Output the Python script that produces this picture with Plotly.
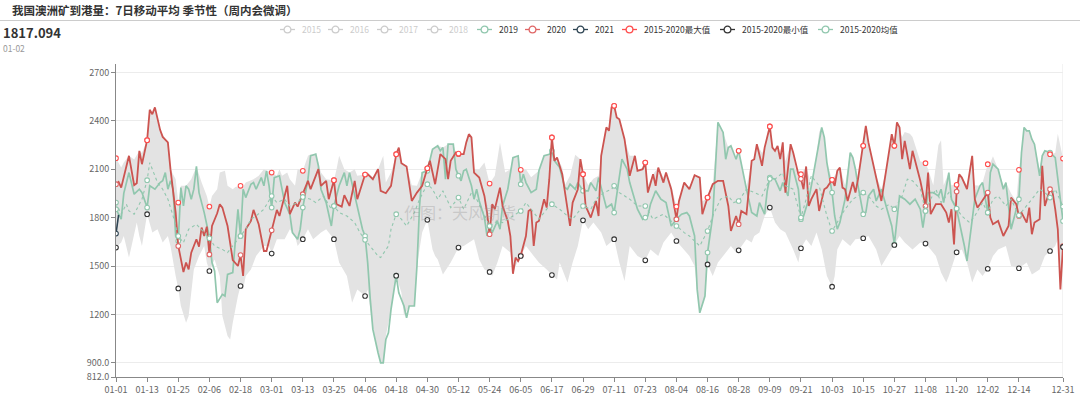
import plotly.graph_objects as go
import numpy as np

# ---------------- data (day index 0..365 of a leap-year calendar, value) ----------------
tick_days = [0, 12, 24, 36, 48, 60, 72, 84, 96, 108, 120, 132, 144, 156, 168, 180, 192, 204,
             216, 228, 240, 252, 264, 276, 288, 300, 312, 324, 336, 348, 365]
tick_labels = ["01-01", "01-13", "01-25", "02-06", "02-18", "03-01", "03-13", "03-25", "04-06",
               "04-18", "04-30", "05-12", "05-24", "06-05", "06-17", "06-29", "07-11", "07-23",
               "08-04", "08-16", "08-28", "09-09", "09-21", "10-03", "10-15", "10-27", "11-08",
               "11-20", "12-02", "12-14", "12-31"]
y_tick_vals = [812, 900, 1200, 1500, 1800, 2100, 2400, 2700]
y_tick_text = ["812.0", "900.0", "1200", "1500", "1800", "2100", "2400", "2700"]

s2020 = [(0,2007),(1,2021),(2,1986),(5,2183),(7,2001),(8,2013),(9,2214),(10,2131),(12,2280),(13,2468),
 (14,2441),(15,2483),(17,2344),(18,2300),(20,2266),(21,2100),(23,1831),(24,1624),(26,1463),(27,1521),
 (28,1479),(29,1583),(31,1666),(32,1620),(33,1738),(34,1686),(35,1744),(36,1572),(37,1748),(39,1827),
 (40,1883),(41,1862),(43,1748),(45,1537),(47,1500),(48,1568),(49,1438),(50,1728),(52,1779),(53,1848),
 (55,1759),(57,1593),(58,1593),(60,1721),(62,1848),(63,1810),(65,1934),(66,1997),(67,1821),(69,1893),
 (70,1868),(72,1945),(74,2028),(75,1976),(78,2100),(79,1997),(81,2028),(82,1914),(84,2032),(85,1883),
 (87,1868),(88,1939),(90,1872),(92,2028),(93,1914),(96,2067),(97,2069),(99,2038),(101,2100),(102,1966),
 (104,1951),(106,1997),(108,2193),(109,2234),(110,2137),(112,2117),(114,1903),(116,1955),(118,1997),
 (120,2106),(121,2152),(123,2007),(125,2193),(127,2162),(128,2038),(129,2152),(131,2203),(132,2193),
 (134,2193),(135,2266),(136,2317),(137,2297),(138,2079),(140,2048),(142,1934),(143,1831),(144,1697),
 (145,1883),(146,1852),(148,1986),(149,1872),(151,1779),(152,1686),(153,1452),(154,1552),(155,1531),
 (156,1565),(158,1686),(159,1841),(160,1852),(161,1624),(162,1769),(163,1779),(165,1914),(166,1862),
 (167,2038),(168,2297),(169,2152),(170,2172),(172,2069),(173,1966),(175,1748),(176,1893),(178,1976),
 (179,2162),(180,2069),(181,1872),(183,1800),(185,1903),(186,1810),(187,2183),(189,2359),(190,2338),
 (191,2483),(192,2493),(193,2421),(194,2410),(196,2286),(198,2059),(199,2131),(200,2183),(201,2090),
 (203,2100),(204,2141),(205,1955),(207,2069),(208,1997),(209,2110),(211,2017),(212,2079),(214,1976),
 (216,1790),(217,1903),(219,2017),(221,1976),(223,2063),(225,2048),(226,1821),(228,1924),(230,2007),
 (232,2028),(234,2028),(236,1872),(237,1717),(239,1810),(240,1759),(241,1841),(243,1821),(245,2152),
 (246,2162),(247,2255),(249,2121),(250,2234),(252,2365),(253,2234),(254,2214),(255,2245),(256,2162),
 (257,2266),(258,1955),(260,2255),(261,2203),(263,2069),(264,2040),(265,1976),(266,2117),(267,1872),
 (268,1914),(270,1976),(271,1841),(273,1976),(274,1986),(276,2034),(277,1997),(278,2090),(279,2110),
 (280,1986),(281,1976),(282,1903),(284,2021),(285,1955),(286,2038),(288,2245),(289,2369),(290,2266),
 (292,2121),(293,2059),(295,1903),(297,2110),(298,2203),(299,2317),(300,2245),(301,2390),(302,2359),
 (303,2162),(304,2276),(306,2100),(307,2214),(309,2100),(310,2028),(312,1872),(313,2079),(314,1821),
 (316,1883),(318,1883),(320,1831),(321,1769),(322,1852),(323,1634),(324,1961),(325,2069),(326,2048),
 (328,1976),(330,2183),(331,1914),(332,1862),(333,1883),(335,1934),(336,1955),(337,1800),(338,1759),
 (340,1779),(342,1686),(344,1748),(345,1924),(347,1883),(348,1810),(349,1831),(351,1769),(352,1862),
 (353,1697),(354,1769),(356,1790),(357,2121),(358,1872),(360,1976),(361,1955),(362,1852),(363,1727),
 (364,1355),(365,1624)]

s2019 = [(0,1852),(2,1790),(3,1950),(5,2079),(7,1945),(9,1976),(10,1955),(12,1862),(13,1997),(15,1976),
 (17,2017),(18,2028),(19,2079),(20,1976),(21,2028),(22,1976),(23,1686),(24,1655),(25,1986),(26,1872),
 (27,1997),(28,1976),(29,1914),(30,1976),(31,2117),(32,1955),(34,1831),(35,1748),(36,1680),(37,1521),
 (38,1469),(39,1272),(41,1324),(42,1314),(43,1448),(45,1459),(46,1666),(47,1852),(48,1686),(49,1976),
 (50,1924),(52,2007),(53,2017),(54,1976),(56,2048),(57,1997),(58,2090),(59,1997),(60,1862),(61,2048),
 (63,2059),(64,1976),(65,1893),(67,1821),(68,1707),(70,1666),(71,1728),(72,1862),(74,2038),(75,2183),
 (77,2193),(78,2121),(79,1976),(81,1893),(82,1810),(83,1748),(84,1872),(85,1934),(86,1997),(88,2079),
 (89,1997),(90,2079),(92,1934),(93,1872),(95,1728),(96,1686),(97,1521),(98,1293),(99,1107),(101,962),
 (102,900),(103,900),(104,1045),(105,1086),(106,1231),(108,1440),(109,1334),(111,1252),(112,1179),
 (113,1252),(115,1252),(116,1500),(117,1872),(118,2079),(120,2090),(122,2224),(124,2245),(125,2214),
 (126,2234),(127,2038),(128,2255),(130,2255),(131,2100),(132,2060),(133,2028),(134,2090),(135,2100),
 (137,1997),(138,1914),(139,1976),(140,1903),(142,1800),(143,1686),(144,1748),(145,1707),(147,1779),
 (148,1728),(149,1872),(151,1976),(153,2172),(155,2183),(156,2007),(157,2069),(158,2017),(160,1955),
 (162,1976),(163,2090),(165,2183),(167,2193),(168,2214),(169,2152),(171,2110),(173,1986),(174,1976),
 (175,2007),(177,1976),(178,2017),(180,1966),(182,1966),(183,2017),(185,1966),(186,2048),(188,1934),
 (189,1862),(191,1883),(192,1831),(195,2162),(197,2100),(198,2017),(201,1852),(203,1790),(204,1800),
 (205,1810),(206,1883),(208,1966),(210,1914),(212,1893),(214,1748),(216,1790),(218,1821),(220,1831),
 (221,1810),(223,1686),(224,1355),(225,1210),(227,1314),(228,1583),(230,1810),(232,2390),(234,2328),
 (235,2162),(236,2234),(237,2245),(239,2162),(240,2214),(243,1976),(245,1831),(246,1821),(247,1810),
 (248,1893),(250,1821),(251,1966),(252,2048),(254,2038),(256,1966),(257,2017),(259,1934),(260,2100),
 (261,2100),(263,1976),(264,1790),(265,1810),(267,1914),(268,1997),(270,2183),(272,2359),(273,2297),
 (274,2141),(276,1955),(277,1810),(278,1728),(279,1769),(281,1914),(283,2203),(284,2172),(285,2100),
 (286,1997),(288,1821),(289,1831),(290,1934),(292,1976),(293,1903),(295,1976),(297,1862),(299,1748),
 (300,1634),(301,1790),(302,1934),(304,1914),(306,1883),(308,1914),(310,1852),(311,1738),(312,1841),
 (313,1955),(315,1955),(317,1934),(318,1976),(319,1893),(321,2079),(322,1914),(324,1852),(325,1779),
 (326,1686),(327,1624),(328,1531),(330,1769),(331,1914),(333,1997),(334,2017),(336,1831),(337,2079),
 (338,2131),(340,2100),(342,1976),(343,2017),(344,1872),(345,1728),(347,1852),(348,1914),(349,2203),
 (350,2359),(351,2338),(352,2338),(353,2286),(354,2255),(356,2059),(357,2183),(358,2214),(360,2203),
 (362,2172),(363,2048),(364,1934),(365,1779)]

s2021 = [(0,1701),(1,1817.094)]

smax = [(0,2168),(2,2110),(3,2141),(5,2183),(7,2160),(9,2214),(10,2200),(12,2280),(13,2468),(14,2441),
 (15,2483),(17,2344),(19,2286),(20,2266),(21,2100),(22,2070),(23,2038),(24,1893),(25,1997),(27,1997),
 (29,2038),(31,2117),(33,2017),(35,1934),(36,1868),(37,1934),(39,1976),(40,2079),(42,2090),(43,1997),
 (45,1976),(46,1990),(48,1997),(49,1990),(50,2017),(53,2038),(55,2059),(57,2100),(58,2090),(60,2079),
 (62,2059),(63,2100),(64,2059),(66,2079),(67,2038),(69,1997),(70,2100),(72,2090),(74,2183),(75,2193),
 (77,2193),(78,2141),(79,2079),(81,2038),(84,2032),(85,2100),(86,2183),(88,2100),(90,2079),(92,2100),
 (93,2059),(96,2067),(97,2079),(99,2048),(101,2100),(103,2183),(104,2017),(106,2079),(108,2193),
 (109,2234),(110,2141),(112,2121),(114,2000),(116,1997),(118,2079),(120,2106),(121,2152),(122,2224),
 (124,2245),(126,2234),(128,2255),(130,2255),(131,2203),(132,2197),(134,2193),(135,2266),(136,2317),
 (137,2297),(138,2100),(140,2100),(142,2141),(144,2011),(146,2059),(148,2266),(150,2080),(152,2100),
 (153,2172),(155,2183),(156,2096),(158,2100),(160,2050),(162,2079),(163,2090),(165,2183),(167,2193),
 (168,2297),(169,2152),(170,2172),(172,2110),(173,2000),(175,2060),(177,2190),(179,2162),(180,2069),
 (182,2000),(184,2040),(186,2060),(187,2183),(189,2359),(190,2338),(191,2483),(192,2493),(193,2421),
 (194,2410),(196,2286),(198,2183),(200,2183),(201,2090),(203,2100),(204,2141),(205,2000),(207,2069),
 (209,2110),(211,2050),(212,2079),(214,2000),(216,1868),(217,1903),(219,2017),(221,1990),(223,2063),
 (225,2048),(226,1900),(228,1924),(230,2007),(232,2390),(234,2328),(236,2234),(237,2245),(239,2162),
 (240,2214),(243,1990),(245,2152),(246,2162),(247,2255),(249,2200),(250,2234),(252,2365),(253,2234),
 (254,2214),(255,2245),(256,2162),(257,2266),(258,2150),(260,2255),(261,2203),(262,2100),(264,2069),
 (266,2117),(268,2000),(270,2183),(271,2330),(272,2359),(273,2297),(274,2141),(276,2034),(278,2090),
 (279,2110),(281,2000),(283,2203),(284,2172),(285,2100),(286,2038),(288,2245),(289,2369),(290,2266),
 (292,2121),(293,2059),(295,1976),(297,2110),(298,2203),(299,2317),(300,2245),(301,2390),(302,2359),
 (303,2300),(304,2330),(306,2320),(307,2300),(309,2200),(310,2150),(312,2137),(313,2100),(315,2000),
 (317,2250),(318,2280),(319,2000),(321,2079),(322,2000),(324,2003),(325,2069),(326,2048),(328,2000),
 (330,2183),(331,2000),(333,1997),(334,2017),(336,2131),(337,2140),(338,2180),(340,2100),(342,2000),
 (343,2017),(345,1950),(347,1900),(348,2096),(349,2203),(350,2359),(351,2338),(352,2338),(353,2286),
 (354,2255),(356,2100),(357,2183),(358,2214),(360,2193),(362,2200),(363,2320),(364,2250),(365,2166)]

smin = [(0,1614),(2,1645),(3,1686),(5,1552),(6,1624),(8,1769),(9,1686),(10,1624),(12,1821),(14,1707),
 (16,1728),(18,1645),(20,1686),(21,1624),(23,1438),(24,1361),(25,1252),(27,1148),(28,1190),(29,1355),
 (30,1479),(32,1562),(34,1624),(35,1521),(36,1469),(38,1541),(40,1438),(41,1190),(43,1066),(44,1045),
 (45,1148),(47,1314),(48,1376),(49,1355),(50,1438),(52,1479),(54,1562),(57,1624),(59,1624),(60,1577),
 (62,1666),(65,1666),(67,1728),(69,1686),(70,1624),(72,1666),(74,1728),(76,1666),(79,1707),(81,1728),
 (84,1666),(86,1521),(89,1438),(91,1272),(93,1355),(96,1314),(97,1355),(99,1107),(101,962),(102,900),
 (103,900),(104,1066),(106,1231),(108,1440),(110,1334),(111,1190),(113,1252),(115,1252),(116,1500),
 (118,1707),(120,1786),(122,1603),(123,1562),(124,1541),(126,1448),(129,1521),(132,1614),(134,1624),
 (138,1666),(140,1541),(142,1479),(144,1463),(145,1438),(147,1521),(149,1624),(152,1583),(153,1452),
 (154,1500),(156,1562),(158,1624),(161,1562),(163,1521),(166,1479),(168,1444),(170,1417),(171,1521),
 (174,1397),(176,1521),(178,1624),(180,1783),(182,1728),(184,1769),(187,1707),(189,1624),(192,1666),
 (194,1521),(196,1407),(198,1624),(201,1562),(204,1535),(206,1603),(209,1562),(211,1645),(214,1707),
 (216,1655),(219,1603),(221,1562),(223,1500),(224,1355),(225,1210),(227,1314),(228,1510),(230,1438),
 (232,1521),(234,1562),(237,1624),(239,1583),(240,1597),(243,1666),(245,1645),(246,1686),(248,1707),
 (250,1810),(252,1862),(254,1769),(256,1728),(258,1707),(261,1603),(263,1521),(264,1610),(266,1666),
 (268,1624),(270,1707),(272,1603),(274,1438),(276,1372),(277,1438),(278,1603),(280,1666),(283,1624),
 (285,1666),(288,1672),(290,1686),(293,1603),(295,1500),(298,1583),(300,1630),(302,1686),(304,1645),
 (307,1603),(310,1645),(312,1639),(314,1603),(316,1562),(318,1459),(320,1397),(321,1438),(324,1585),
 (326,1603),(328,1521),(330,1397),(332,1479),(334,1438),(336,1483),(338,1562),(340,1603),(343,1624),
 (345,1500),(348,1486),(351,1521),(353,1448),(356,1479),(358,1562),(360,1593),(362,1624),(363,1666),
 (364,1355),(365,1618)]

smean = [(0,1893),(2,1821),(4,1883),(5,1841),(7,1821),(8,1852),(10,1914),(12,2032),(13,2141),(14,2100),
 (16,2017),(18,1976),(20,1914),(22,1810),(24,1686),(26,1645),(28,1728),(31,1759),(34,1707),(36,1672),
 (38,1624),(41,1603),(43,1583),(45,1624),(47,1666),(48,1686),(50,1728),(52,1790),(54,1810),(57,1852),
 (60,1934),(62,1893),(65,1914),(67,1872),(70,1893),(72,1928),(75,1914),(77,1893),(80,1934),(83,1852),
 (84,1872),(86,1831),(89,1810),(92,1769),(94,1707),(96,1662),(98,1624),(101,1562),(102,1552),(105,1624),
 (106,1728),(108,1821),(110,1790),(112,1748),(115,1831),(117,1914),(120,2007),(122,1976),(124,1914),
 (126,1966),(129,1862),(132,1924),(134,1852),(137,1955),(139,1914),(142,1810),(144,1748),(147,1779),
 (149,1769),(153,1810),(156,1841),(158,1893),(161,1831),(163,1790),(166,1852),(168,1883),(171,1852),
 (174,1810),(176,1790),(180,1872),(183,1852),(185,1914),(188,1955),(191,1976),(192,1997),(194,1955),
 (198,1914),(201,1872),(204,1872),(207,1790),(211,1821),(214,1779),(216,1748),(219,1707),(221,1686),
 (225,1624),(228,1717),(230,1810),(233,1914),(236,1934),(238,1893),(240,1903),(243,1976),(246,1955),
 (249,1934),(252,2040),(254,2038),(257,2079),(258,1997),(261,1976),(264,1800),(266,1914),(268,2059),
 (271,1997),(274,1810),(276,1717),(278,1769),(281,1852),(284,1914),(288,1955),(290,1934),(293,1872),
 (295,1851),(298,1882),(300,1852),(303,1934),(305,2038),(307,2028),(310,1976),(312,1841),(314,1914),
 (316,1976),(318,1893),(321,1955),(324,1856),(326,1810),(329,1769),(331,1810),(334,1893),(336,1831),
 (338,1914),(340,1934),(343,1872),(345,1914),(348,1814),(351,1872),(353,1914),(356,1976),(358,1955),
 (360,1924),(362,1976),(365,1868)]

legend_names = ["2015", "2016", "2017", "2018", "2019", "2020", "2021",
                "2015-2020最大值", "2015-2020最小值", "2015-2020均值"]

# ---------------- styling ----------------
FONT = "Noto Sans CJK SC"
C2019 = "#91c7ae"
C2020 = "#cc5450"
C2020M = "#e06666"
C2021 = "#2f4554"
CMAX = "#ff4d4d"
CMIN = "#333333"
CMEAN = "#91c7ae"
BAND = "#e3e3e3"

def split(pairs):
    d = np.array([p[0] for p in pairs], dtype=float)
    v = np.array([p[1] for p in pairs], dtype=float)
    return d, v

def marks(pairs):
    d, v = split(pairs)
    m = (d % 12 == 0) | (d == 365)
    return d[m], v[m]

fig = go.Figure()

# band min -> max
d, v = split(smin)
fig.add_trace(go.Scatter(x=d, y=v, mode="lines", line=dict(width=0, color=BAND),
                         showlegend=False, hoverinfo="skip"))
d, v = split(smax)
fig.add_trace(go.Scatter(x=d, y=v, mode="lines", line=dict(width=0, color=BAND),
                         fill="tonexty", fillcolor=BAND, showlegend=False, hoverinfo="skip"))

def line(pairs, color, width, dash="solid"):
    d, v = split(pairs)
    fig.add_trace(go.Scatter(x=d, y=v, mode="lines", line=dict(color=color, width=width, dash=dash),
                             showlegend=False))

def hollow(pairs, color, size=4.6):
    d, v = marks(pairs)
    fig.add_trace(go.Scatter(x=d, y=v, mode="markers",
                             marker=dict(symbol="circle", size=size, color="white",
                                         line=dict(color=color, width=1.1)),
                             showlegend=False))

line(s2019, C2019, 1.7)
hollow(s2019, C2019)
line(s2020, C2020, 1.8)
hollow(s2020, C2020M)
line(s2021, C2021, 1.6)
hollow(s2021[:1], C2021)
hollow(smax, CMAX)
hollow(smin, CMIN)
line(smean, CMEAN, 1.1, "dot")
hollow(smean, CMEAN)

# ---------------- layout ----------------
L, R, T, B = 116, 17, 64, 19
W, H = 1080, 396
PW, PH = W - L - R, H - T - B

def px(x):
    return (x - L) / PW

def py(y):
    return (H - B - y) / PH

shapes = []
annotations = []

# title + rule
annotations.append(dict(text="<b>我国澳洲矿到港量：7日移动平均 季节性（周内会微调）</b>", x=px(10), y=py(10.5),
                        xref="paper", yref="paper", xanchor="left", yanchor="middle", showarrow=False,
                        font=dict(family=FONT, size=11.5, color="#333")))
shapes.append(dict(type="line", xref="paper", yref="paper", x0=px(0), x1=px(1080), y0=py(20.5), y1=py(20.5),
                   line=dict(color="#cccccc", width=1)))
annotations.append(dict(text="<b>1817.094</b>", x=px(1), y=py(32), xref="paper", yref="paper",
                        xanchor="left", yanchor="middle", showarrow=False,
                        font=dict(family=FONT, size=13, color="#333")))
annotations.append(dict(text="01-02", x=px(1), y=py(48), xref="paper", yref="paper",
                        xanchor="left", yanchor="middle", showarrow=False,
                        font=dict(family=FONT, size=8.5, color="#999")))

# legend (manual, to match the compact layout)
legend_x = [280, 328, 377, 427, 477, 525, 573, 622, 720, 818]
legend_colors = ["#cccccc"] * 4 + [C2019, C2020M, C2021, CMAX, CMIN, CMEAN]
legend_active = [False] * 4 + [True] * 6
LY = 29.5
for name, lx, col, act in zip(legend_names, legend_x, legend_colors, legend_active):
    shapes.append(dict(type="line", xref="paper", yref="paper", x0=px(lx), x1=px(lx + 15),
                       y0=py(LY), y1=py(LY), line=dict(color=col, width=1.3)))
    shapes.append(dict(type="circle", xref="paper", yref="paper", xsizemode="pixel", ysizemode="pixel",
                       xanchor=px(lx + 7.5), yanchor=py(LY), x0=-3.4, x1=3.4, y0=-3.4, y1=3.4,
                       fillcolor="white", line=dict(color=col, width=1.3)))
    annotations.append(dict(text=name, x=px(lx + 20), y=py(LY), xref="paper", yref="paper",
                            xanchor="left", yanchor="middle", showarrow=False,
                            font=dict(family=FONT, size=8.5, color="#333" if act else "#cccccc")))

# watermark
annotations.append(dict(text="作图：天风期货", x=px(460), y=py(212), xref="paper", yref="paper",
                        xanchor="center", yanchor="middle", showarrow=False,
                        font=dict(family=FONT, size=16, color="rgba(150,150,150,0.35)")))

# faint right border
shapes.append(dict(type="line", xref="x", yref="paper", x0=365, x1=365, y0=0, y1=1,
                   line=dict(color="#e6e6e6", width=1), layer="below"))

fig.update_layout(
    width=W, height=H, autosize=False,
    margin=dict(l=L, r=R, t=T, b=B, pad=0, autoexpand=False),
    paper_bgcolor="white", plot_bgcolor="white",
    showlegend=False,
    shapes=shapes, annotations=annotations,
    font=dict(family=FONT, size=9, color="#666"),
    xaxis=dict(range=[0, 365], tickmode="array", tickvals=tick_days, ticktext=tick_labels,
               automargin=False,
               showgrid=False, zeroline=False, showline=True, linecolor="#888", linewidth=1,
               ticks="outside", ticklen=4, tickcolor="#888",
               tickfont=dict(family=FONT, size=9, color="#666")),
    yaxis=dict(range=[812, 2752], tickmode="array", tickvals=y_tick_vals, ticktext=y_tick_text,
               automargin=False,
               showgrid=True, gridcolor="#ececec", gridwidth=1, zeroline=False,
               showline=True, linecolor="#888", linewidth=1,
               ticks="outside", ticklen=4, tickcolor="#888",
               tickfont=dict(family=FONT, size=9, color="#666")),
)

fig.write_html("out.html", config={"responsive": False, "displayModeBar": False},
               post_script="document.body.style.margin='0';document.body.style.overflow='hidden';")
